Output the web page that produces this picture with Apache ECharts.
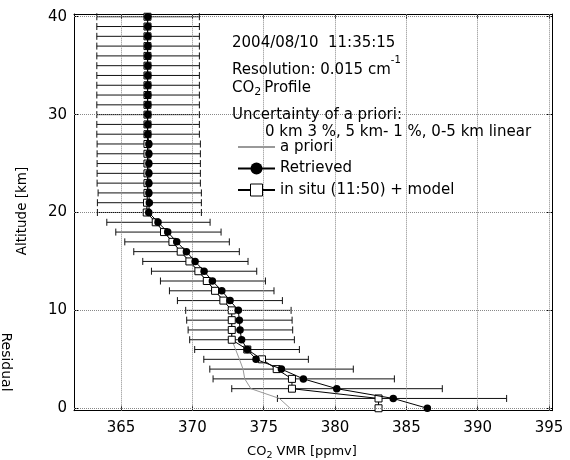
<!DOCTYPE html>
<html>
<head>
<meta charset="utf-8">
<title>CO2 profile</title>
<script src="https://cdn.jsdelivr.net/npm/echarts@6/dist/echarts.min.js"></script>
<style>
  html, body { margin: 0; padding: 0; background: #fff; }
  #chart { width: 570px; height: 460px; }
</style>
</head>
<body>
<div id="chart"></div>
<script>
const FONT = 'DejaVu Sans';

// altitude levels [km]
const altitudes = [0, 1, 2, 3, 4, 5, 6, 7, 8, 9, 10, 11, 12, 13, 14, 15, 16, 17, 18, 19, 20,
  21, 22, 23, 24, 25, 26, 27, 28, 29, 30, 31, 32, 33, 34, 35, 36, 37, 38, 39, 40];

// CO2 VMR [ppmv], one value per altitude
const retrieved = [386.47, 384.08, 380.12, 377.78, 376.24, 374.46, 373.85, 373.45, 373.34, 373.29, 373.22,
  372.64, 372.06, 371.40, 370.82, 370.19, 369.58, 368.90, 368.27, 367.59, 366.94,
  366.98, 366.95, 366.95, 366.95, 366.95, 366.95, 366.95, 366.87, 366.87, 366.87,
  366.87, 366.87, 366.87, 366.87, 366.87, 366.87, 366.87, 366.87, 366.87, 366.87];

const inSitu = [383.05, 383.05, 376.98, 376.98, 375.91, 374.88, 373.85, 372.76, 372.76, 372.76, 372.76,
  372.17, 371.59, 371.01, 370.42, 369.79, 369.18, 368.60, 368.01, 367.43, 366.80,
  366.82, 366.85, 366.85, 366.85, 366.85, 366.85, 366.85, 366.85, 366.85, 366.85,
  366.85, 366.85, 366.85, 366.85, 366.85, 366.85, 366.85, 366.85, 366.85, 366.85];

const aPriori = [376.85, 376.10, 374.10, 373.67, 373.55, 373.30, 373.03, 372.76, 372.76, 372.76, 372.76,
  372.17, 371.59, 371.01, 370.42, 369.79, 369.18, 368.60, 368.01, 367.43, 366.80,
  366.82, 366.85, 366.85, 366.85, 366.85, 366.85, 366.85, 366.85, 366.85, 366.85,
  366.85, 366.85, 366.85, 366.85, 366.85, 366.85, 366.85, 366.85, 366.85, 366.85];

// error bar ends of the retrieved profile (none visible at 0 km)
const errLow = [null, 375.96, 372.76, 371.45, 371.22, 370.80, 370.16, 369.81, 369.70, 369.60, 369.53,
  368.95, 368.39, 367.76, 367.13, 366.52, 365.89, 365.26, 364.63, 364.00, 363.34,
  363.34, 363.39, 363.32, 363.32, 363.32, 363.32, 363.32, 363.30, 363.30, 363.30,
  363.30, 363.30, 363.30, 363.30, 363.30, 363.30, 363.30, 363.30, 363.30, 363.30];

const errHigh = [null, 392.03, 387.52, 384.16, 381.28, 378.13, 377.50, 377.15, 377.03, 376.99, 376.92,
  376.31, 375.72, 375.12, 374.51, 373.90, 373.29, 372.59, 372.01, 371.24, 370.63,
  370.63, 370.63, 370.56, 370.56, 370.56, 370.56, 370.56, 370.49, 370.49, 370.49,
  370.49, 370.49, 370.49, 370.49, 370.49, 370.49, 370.49, 370.49, 370.49, 370.49];

const xTicks = [365, 370, 375, 380, 385, 390, 395];
const yTicks = [0, 10, 20, 30, 40];

const pairs = (vals) => vals.map((v, i) => [v, altitudes[i]]);
const errData = altitudes
  .map((a, i) => [a, errLow[i], errHigh[i]])
  .filter(d => d[1] != null);

const chart = echarts.init(document.getElementById('chart'));

const xAxisBase = {
  type: 'value',
  min: 361.70,
  max: 395.21,
  axisLine: { show: true, onZero: false, lineStyle: { color: '#000', width: 1 } },
  axisTick: { show: true, inside: true, length: 5, customValues: xTicks, lineStyle: { color: '#000' } },
  splitLine: { show: false }
};
const yAxisBase = {
  type: 'value',
  min: -0.25,
  max: 40.28,
  axisLine: { show: true, onZero: false, lineStyle: { color: '#000', width: 1 } },
  axisTick: { show: true, inside: true, length: 5, customValues: yTicks, lineStyle: { color: '#000' } },
  splitLine: { show: false }
};

const option = {
  animation: false,
  backgroundColor: '#fff',
  textStyle: { fontFamily: FONT },
  grid: { left: 74, top: 14, width: 478, height: 396.7 },
  xAxis: [
    Object.assign({}, xAxisBase, {
      position: 'bottom',
      axisLabel: { show: true, customValues: xTicks, margin: 10, fontSize: 15, color: '#000', fontFamily: FONT }
    }),
    Object.assign({}, xAxisBase, { position: 'top', axisLabel: { show: false } })
  ],
  yAxis: [
    Object.assign({}, yAxisBase, {
      position: 'left',
      axisLabel: { show: true, customValues: yTicks, margin: 7, fontSize: 15, color: '#000', fontFamily: FONT }
    }),
    Object.assign({}, yAxisBase, { position: 'right', axisLabel: { show: false } })
  ],
  legend: {
    orient: 'vertical',
    left: 237,
    top: 139.5,
    padding: 0,
    itemWidth: 37,
    itemHeight: 15,
    itemGap: 6.5,
    z: 6,
    textStyle: { fontSize: 15, color: '#000', fontFamily: FONT },
    data: [
      { name: 'a priori', itemStyle: { opacity: 0 } },
      { name: 'Retrieved' },
      { name: 'in situ (11:50) + model', itemStyle: { color: '#fff', borderColor: '#000', borderWidth: 1 } }
    ]
  },
  graphic: [
    { type: 'rect', z: 5, shape: { x: 231, y: 33, width: 299, height: 167 }, style: { fill: '#fff' } },
    { type: 'text', z: 6, x: 232, y: 43,
      style: { text: '2004/08/10  11:35:15', font: '15px ' + FONT, fill: '#000', textVerticalAlign: 'middle' } },
    { type: 'text', z: 6, x: 232, y: 70,
      style: {
        text: '{a|Resolution: 0.015 cm}{s|-1}', fill: '#000', textVerticalAlign: 'middle',
        rich: {
          a: { fontSize: 15, lineHeight: 30, fontFamily: FONT, fill: '#000' },
          s: { fontSize: 10, lineHeight: 10, verticalAlign: 'top', fontFamily: FONT, fill: '#000' }
        }
      } },
    { type: 'text', z: 6, x: 232, y: 88,
      style: {
        text: '{a|CO}{b|2}{a|Profile}', fill: '#000', textVerticalAlign: 'middle',
        rich: {
          a: { fontSize: 15, lineHeight: 20, fontFamily: FONT, fill: '#000' },
          b: { fontSize: 11, lineHeight: 12, verticalAlign: 'bottom', fontFamily: FONT, fill: '#000', padding: [0, 3, 0, 0] }
        }
      } },
    { type: 'text', z: 6, x: 232, y: 115,
      style: { text: 'Uncertainty of a priori:', font: '15px ' + FONT, fill: '#000', textVerticalAlign: 'middle' } },
    { type: 'text', z: 6, x: 265, y: 132,
      style: { text: '0 km 3 %, 5 km- 1 %, 0-5 km linear', font: '15px ' + FONT, fill: '#000', textVerticalAlign: 'middle' } },
    // axis titles
    { type: 'text', z: 6, x: 302, y: 451.5,
      style: {
        text: '{a|CO}{b|2}{a| VMR [ppmv]}', fill: '#000', textAlign: 'center', textVerticalAlign: 'middle',
        rich: {
          a: { fontSize: 13, lineHeight: 18, fontFamily: FONT, fill: '#000' },
          b: { fontSize: 9.5, lineHeight: 10, verticalAlign: 'bottom', fontFamily: FONT, fill: '#000' }
        }
      } },
    { type: 'text', z: 6, x: 22, y: 211, rotation: Math.PI / 2,
      style: { text: 'Altitude [km]', font: '13.5px ' + FONT, fill: '#000', textAlign: 'center', textVerticalAlign: 'middle' } },
    { type: 'text', z: 6, x: 6, y: 362, rotation: -Math.PI / 2,
      style: { text: 'Residual', font: '14px ' + FONT, fill: '#000', textAlign: 'center', textVerticalAlign: 'middle' } }
  ],
  series: [
    {
      // dotted grid lines
      name: 'grid',
      type: 'line',
      data: [],
      z: 1,
      markLine: {
        silent: true,
        symbol: ['none', 'none'],
        label: { show: false },
        emphasis: { disabled: true },
        lineStyle: { color: '#888', type: 'dotted', width: 1 },
        data: xTicks.map(v => ({ xAxis: v })).concat(yTicks.map(v => ({ yAxis: v })))
      }
    },
    {
      name: 'error',
      type: 'custom',
      z: 2,
      data: errData,
      encode: { x: [1, 2], y: 0 },
      renderItem: function (params, api) {
        const alt = api.value(0);
        const p1 = api.coord([api.value(1), alt]);
        const p2 = api.coord([api.value(2), alt]);
        const h = 3.5;
        const st = { stroke: '#111', lineWidth: 1 };
        return {
          type: 'group',
          children: [
            { type: 'line', shape: { x1: p1[0], y1: p1[1], x2: p2[0], y2: p2[1] }, style: st },
            { type: 'line', shape: { x1: p1[0], y1: p1[1] - h, x2: p1[0], y2: p1[1] + h }, style: st },
            { type: 'line', shape: { x1: p2[0], y1: p2[1] - h, x2: p2[0], y2: p2[1] + h }, style: st }
          ]
        };
      }
    },
    {
      name: 'a priori',
      type: 'line',
      z: 3,
      data: pairs(aPriori),
      symbol: 'none',
      color: '#999',
      lineStyle: { color: '#999', width: 1 }
    },
    {
      name: 'in situ (11:50) + model',
      type: 'line',
      z: 4,
      data: pairs(inSitu),
      symbol: 'rect',
      symbolSize: 7,
      color: '#000',
      itemStyle: { color: '#fff', borderColor: '#000', borderWidth: 1 },
      lineStyle: { color: '#000', width: 1 }
    },
    {
      name: 'Retrieved',
      type: 'line',
      z: 5,
      data: pairs(retrieved),
      symbol: 'circle',
      symbolSize: 7.5,
      color: '#000',
      itemStyle: { color: '#000' },
      lineStyle: { color: '#000', width: 1 }
    }
  ]
};

chart.setOption(option);
</script>
</body>
</html>
